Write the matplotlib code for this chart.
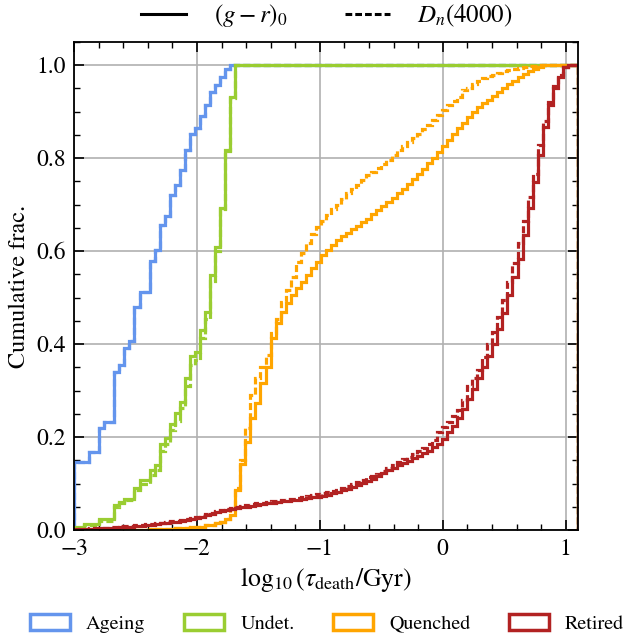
import numpy as np
import matplotlib
matplotlib.use("Agg")
import matplotlib.pyplot as plt
from matplotlib.ticker import MultipleLocator
from matplotlib.lines import Line2D
from matplotlib.patches import Patch

plt.rcParams['font.family'] = ['STIXGeneral', 'DejaVu Serif']
plt.rcParams['mathtext.fontset'] = 'stix'

# bin edges of log10(tau_death / Gyr)
tau_edges = np.linspace(-3.0, 1.1, 101)

classes = ["Ageing", "Undet.", "Quenched", "Retired"]
colors = ["cornflowerblue", "yellowgreen", "orange", "firebrick"]
method_labels = [r"$(g-r)_0$", r"$D_n(4000)$"]

# cumulative fractions per bin (values after the list end are 1.0)
ageing_gr = [0.147, 0.147, 0.147, 0.167, 0.167, 0.22, 0.233, 0.233, 0.34, 0.355,
             0.392, 0.406, 0.48, 0.512, 0.512, 0.578, 0.603, 0.656, 0.676, 0.72,
             0.742, 0.774, 0.817, 0.851, 0.864, 0.89, 0.914, 0.943, 0.957, 0.975,
             0.991]
ageing_dn = [0.147, 0.147, 0.147, 0.167, 0.167, 0.22, 0.233, 0.233, 0.34, 0.355,
             0.392, 0.406, 0.48, 0.512, 0.512, 0.578, 0.603, 0.656, 0.676, 0.72,
             0.742, 0.774, 0.817, 0.851, 0.864, 0.89, 0.914, 0.943, 0.957, 0.975,
             0.991]

undet_gr = [0.007, 0.007, 0.013, 0.013, 0.013, 0.023, 0.023, 0.023, 0.054, 0.06,
            0.067, 0.067, 0.09, 0.108, 0.108, 0.129, 0.14, 0.186, 0.197, 0.229,
            0.251, 0.276, 0.326, 0.374, 0.383, 0.43, 0.469, 0.548, 0.609, 0.692,
            0.817, 0.932]
undet_dn = [0.005, 0.005, 0.01, 0.01, 0.01, 0.02, 0.02, 0.02, 0.05, 0.058,
            0.064, 0.064, 0.085, 0.1, 0.1, 0.118, 0.13, 0.17, 0.185, 0.215,
            0.235, 0.262, 0.31, 0.355, 0.365, 0.412, 0.455, 0.535, 0.6, 0.69,
            0.815, 0.93]

quenched_gr = [0, 0, 0, 0, 0, 0, 0, 0, 0, 0,
               0.001, 0.001, 0.001, 0.001, 0.001, 0.002, 0.002, 0.002, 0.002, 0.002,
               0.004, 0.004, 0.004, 0.006, 0.006, 0.006, 0.01, 0.01, 0.014, 0.018,
               0.024, 0.032, 0.086, 0.143, 0.19, 0.24, 0.273, 0.316, 0.351, 0.413,
               0.445, 0.47, 0.488, 0.505, 0.52, 0.534, 0.548, 0.563, 0.577, 0.591,
               0.602, 0.613, 0.624, 0.632, 0.64, 0.647, 0.655, 0.662, 0.67, 0.679,
               0.688, 0.697, 0.706, 0.715, 0.724, 0.733, 0.744, 0.755, 0.766, 0.777,
               0.79, 0.801, 0.813, 0.826, 0.84, 0.852, 0.864, 0.876, 0.888, 0.9,
               0.91, 0.918, 0.926, 0.934, 0.943, 0.951, 0.959, 0.967, 0.974, 0.981,
               0.987, 0.992, 0.996]
quenched_dn = [0, 0, 0, 0, 0, 0, 0, 0, 0, 0,
               0.001, 0.001, 0.001, 0.001, 0.001, 0.002, 0.002, 0.002, 0.002, 0.002,
               0.004, 0.004, 0.004, 0.006, 0.006, 0.006, 0.01, 0.01, 0.014, 0.018,
               0.024, 0.045, 0.09, 0.15, 0.219, 0.29, 0.326, 0.351, 0.376, 0.423,
               0.455, 0.491, 0.516, 0.545, 0.577, 0.595, 0.617, 0.636, 0.652, 0.665,
               0.677, 0.69, 0.699, 0.712, 0.724, 0.733, 0.742, 0.752, 0.763, 0.771,
               0.778, 0.787, 0.796, 0.807, 0.817, 0.826, 0.835, 0.844, 0.853, 0.862,
               0.871, 0.882, 0.892, 0.903, 0.914, 0.923, 0.932, 0.946, 0.952, 0.96,
               0.967, 0.972, 0.976, 0.98, 0.984, 0.987, 0.99, 0.992, 0.994, 0.996,
               0.998, 0.999]

retired_gr = [0.001, 0.002, 0.002, 0.003, 0.003, 0.004, 0.004, 0.005, 0.005, 0.006,
              0.006, 0.007, 0.008, 0.009, 0.01, 0.011, 0.012, 0.014, 0.015, 0.017,
              0.018, 0.02, 0.022, 0.024, 0.026, 0.029, 0.032, 0.035, 0.038, 0.041,
              0.043, 0.045, 0.047, 0.049, 0.05, 0.052, 0.054, 0.055, 0.057, 0.059,
              0.06, 0.062, 0.063, 0.064, 0.065, 0.067, 0.069, 0.07, 0.072, 0.074,
              0.076, 0.079, 0.082, 0.086, 0.089, 0.093, 0.097, 0.101, 0.106, 0.11,
              0.116, 0.122, 0.128, 0.134, 0.139, 0.144, 0.149, 0.154, 0.159, 0.165,
              0.171, 0.178, 0.186, 0.195, 0.21, 0.224, 0.242, 0.26, 0.282, 0.304,
              0.327, 0.35, 0.375, 0.401, 0.432, 0.466, 0.505, 0.545, 0.584, 0.634,
              0.692, 0.749, 0.806, 0.867, 0.914, 0.95, 0.975, 0.997]
retired_dn = [0.002, 0.003, 0.003, 0.004, 0.004, 0.005, 0.005, 0.006, 0.007, 0.008,
              0.008, 0.009, 0.01, 0.011, 0.012, 0.013, 0.014, 0.016, 0.017, 0.019,
              0.02, 0.022, 0.024, 0.026, 0.028, 0.031, 0.034, 0.037, 0.04, 0.043,
              0.045, 0.047, 0.049, 0.051, 0.053, 0.055, 0.057, 0.058, 0.06, 0.062,
              0.063, 0.065, 0.066, 0.067, 0.069, 0.071, 0.073, 0.075, 0.077, 0.079,
              0.081, 0.084, 0.087, 0.091, 0.095, 0.099, 0.103, 0.108, 0.113, 0.117,
              0.12, 0.126, 0.133, 0.14, 0.146, 0.152, 0.158, 0.164, 0.17, 0.177,
              0.185, 0.194, 0.211, 0.222, 0.233, 0.245, 0.258, 0.28, 0.31, 0.327,
              0.344, 0.373, 0.401, 0.426, 0.459, 0.495, 0.534, 0.575, 0.617, 0.665,
              0.717, 0.767, 0.828, 0.88, 0.921, 0.955, 0.98, 0.997]

series_gr = [ageing_gr, undet_gr, quenched_gr, retired_gr]
series_dn = [ageing_dn, undet_dn, quenched_dn, retired_dn]

nbins = len(tau_edges) - 1


def full(vals):
    v = np.ones(nbins)
    v[:len(vals)] = vals
    return v


fig = plt.figure(figsize=(6.24, 6.36), dpi=100)
ax = fig.add_axes([0.1186, 0.1667, 0.8077, 0.7673])

lw = 2.3
for c, g, d in zip(colors, series_gr, series_dn):
    ax.stairs(full(g), tau_edges, baseline=0, fill=False, color=c, lw=lw, ls='-')
    ax.stairs(full(d), tau_edges, baseline=0, fill=False, color=c, lw=lw,
              ls=(0, (2.2, 1.0)))

ax.set_xlim(-3, 1.1)
ax.set_ylim(0, 1.05)
ax.xaxis.set_major_locator(MultipleLocator(1))
ax.xaxis.set_minor_locator(MultipleLocator(0.2))
ax.yaxis.set_major_locator(MultipleLocator(0.2))
ax.yaxis.set_minor_locator(MultipleLocator(0.05))
ax.tick_params(which='both', direction='in', top=True, right=True, labelsize=17)
ax.tick_params(which='major', length=7, width=1.2, pad=6)
ax.tick_params(which='minor', length=4, width=1.0)
ax.grid(True, which='major', color='#b0b0b0', lw=1.2)
ax.set_axisbelow(True)
for s in ax.spines.values():
    s.set_linewidth(1.3)

ax.set_xlabel(r'$\log_{10}(\tau_{\rm death}/{\rm Gyr})$', fontsize=18.5, labelpad=4)
ax.set_ylabel('Cumulative frac.', fontsize=17.5, labelpad=4)

top_handles = [Line2D([], [], color='k', lw=2.2, ls='-'),
               Line2D([], [], color='k', lw=2.2, ls=(0, (2.2, 1.0)))]
fig.legend(top_handles, method_labels, loc='center', bbox_to_anchor=(0.524, 0.975),
           ncol=2, frameon=False, fontsize=18, handlelength=1.8, columnspacing=2.3,
           handletextpad=1.1)

bot_handles = [Patch(facecolor='white', edgecolor=c, lw=2.5) for c in colors]
fig.legend(bot_handles, classes, loc='center', bbox_to_anchor=(0.524, 0.02),
           ncol=4, frameon=False, fontsize=14.5, handlelength=2.0, handleheight=0.9,
           columnspacing=1.9, handletextpad=0.8)

fig.savefig('out.png', dpi=100)
